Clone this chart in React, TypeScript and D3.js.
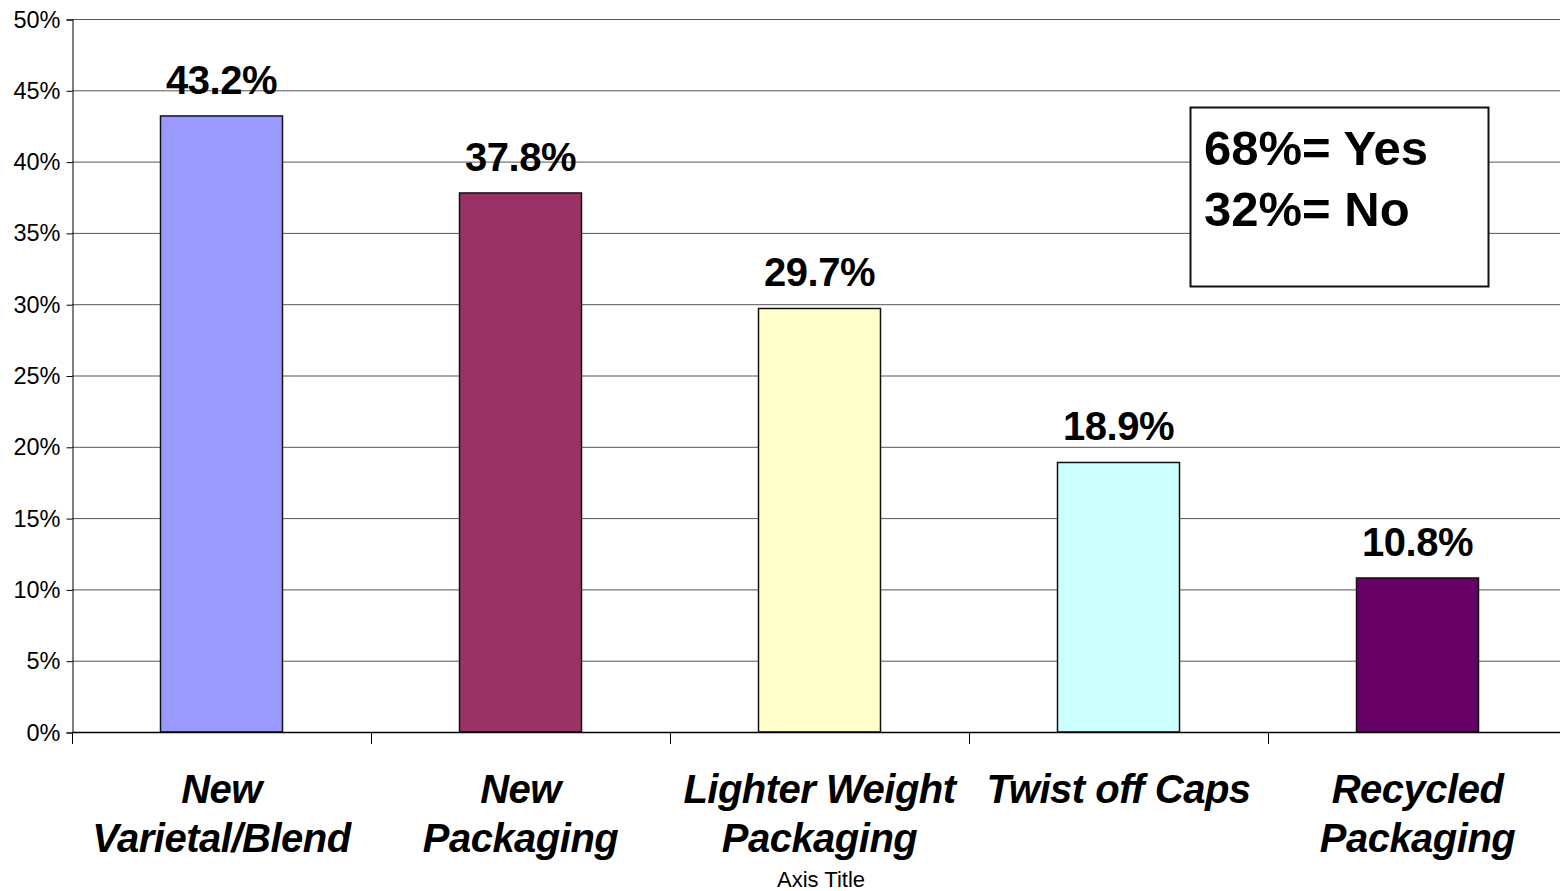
import React, { useEffect, useRef } from 'react';
import * as d3 from 'd3';

const categories = [
  ['New', 'Varietal/Blend'],
  ['New', 'Packaging'],
  ['Lighter Weight', 'Packaging'],
  ['Twist off Caps'],
  ['Recycled', 'Packaging'],
];
const values = [43.2, 37.8, 29.7, 18.9, 10.8];
const barColors = ['#9999FF', '#993366', '#FFFFCC', '#CCFFFF', '#660066'];
const yTicks = [0, 5, 10, 15, 20, 25, 30, 35, 40, 45, 50];
const noteLines = ['68%= Yes', '32%= No'];
const xAxisTitle = 'Axis Title';

const W = 1560;
const H = 891;

const App: React.FC = () => {
  const svgRef = useRef<SVGSVGElement>(null);

  useEffect(() => {
    if (!svgRef.current) return;
    const svg = d3.select(svgRef.current);
    svg.selectAll('*').remove();

    const margin = { left: 72, top: 19, bottom: 732, right: 1567 };
    const font = '"Liberation Sans", Arial, sans-serif';

    const x = d3.scaleBand<number>()
      .domain(values.map((_, i) => i))
      .range([margin.left, margin.right])
      .padding(0);

    const y = d3.scaleLinear().domain([0, 50]).range([margin.bottom, margin.top]);

    // Gridlines
    svg.append('g')
      .selectAll('line')
      .data(yTicks.filter(t => t > 0))
      .enter()
      .append('line')
      .attr('x1', margin.left)
      .attr('x2', W)
      .attr('y1', d => y(d) + 0.5)
      .attr('y2', d => y(d) + 0.5)
      .attr('stroke', '#555')
      .attr('stroke-width', 1);

    // Bars
    const bw = x.bandwidth() * 0.408;
    svg.append('g')
      .selectAll('rect')
      .data(values)
      .enter()
      .append('rect')
      .attr('x', (_, i) => (x(i) as number) + (x.bandwidth() - bw) / 2)
      .attr('y', d => y(d))
      .attr('width', bw)
      .attr('height', d => y(0) - y(d))
      .attr('fill', (_, i) => barColors[i])
      .attr('stroke', '#111')
      .attr('stroke-width', 1.5);

    // Value labels
    svg.append('g')
      .selectAll('text')
      .data(values)
      .enter()
      .append('text')
      .attr('x', (_, i) => (x(i) as number) + x.bandwidth() / 2)
      .attr('y', d => y(d) - 22)
      .attr('text-anchor', 'middle')
      .attr('font-family', font)
      .attr('font-weight', 'bold')
      .attr('font-size', 40)
      .attr('letter-spacing', -0.5)
      .attr('fill', '#000')
      .text(d => `${d.toFixed(1)}%`);

    // Y axis
    const yAxis = d3.axisLeft(y)
      .tickValues(yTicks)
      .tickSize(6)
      .tickPadding(6)
      .tickFormat(d => `${d}%`);
    const yg = svg.append('g')
      .attr('transform', `translate(${margin.left + 0.5},0.5)`)
      .call(yAxis);
    yg.select('.domain').attr('stroke', '#000').attr('stroke-width', 1);
    yg.selectAll('.tick line').attr('stroke', '#000');
    yg.selectAll('.tick text')
      .attr('font-family', font)
      .attr('font-size', 23.5)
      .attr('letter-spacing', 0)
      .attr('fill', '#000');

    // X axis line + ticks
    svg.append('line')
      .attr('x1', margin.left)
      .attr('x2', W)
      .attr('y1', y(0) + 0.5)
      .attr('y2', y(0) + 0.5)
      .attr('stroke', '#000')
      .attr('stroke-width', 1.5);
    svg.append('g')
      .selectAll('line')
      .data(values.map((_, i) => i))
      .enter()
      .append('line')
      .attr('x1', i => (x(i) as number) + 0.5)
      .attr('x2', i => (x(i) as number) + 0.5)
      .attr('y1', y(0))
      .attr('y2', y(0) + 12)
      .attr('stroke', '#000')
      .attr('stroke-width', 1);

    // Category labels
    const catG = svg.append('g');
    categories.forEach((lines, i) => {
      const t = catG.append('text')
        .attr('x', (x(i) as number) + x.bandwidth() / 2)
        .attr('y', 803)
        .attr('text-anchor', 'middle')
        .attr('font-family', font)
        .attr('font-weight', 'bold')
        .attr('font-style', 'italic')
        .attr('font-size', 40)
        .attr('letter-spacing', -0.5)
        .attr('fill', '#000');
      lines.forEach((ln, j) => {
        t.append('tspan')
          .attr('x', (x(i) as number) + x.bandwidth() / 2)
          .attr('dy', j === 0 ? 0 : 49)
          .text(ln);
      });
    });

    // Axis title
    svg.append('text')
      .attr('x', 821)
      .attr('y', 887)
      .attr('text-anchor', 'middle')
      .attr('font-family', font)
      .attr('font-size', 22)
      .attr('fill', '#000')
      .text(xAxisTitle);

    // Note box
    const box = svg.append('g');
    box.append('rect')
      .attr('x', 1190.5)
      .attr('y', 107.5)
      .attr('width', 298)
      .attr('height', 179)
      .attr('fill', '#fff')
      .attr('stroke', '#111')
      .attr('stroke-width', 2);
    noteLines.forEach((ln, j) => {
      box.append('text')
        .attr('x', 1204)
        .attr('y', 165 + j * 61)
        .attr('font-family', font)
        .attr('font-weight', 'bold')
        .attr('font-size', 49)
        .attr('letter-spacing', 0)
        .attr('fill', '#000')
        .text(ln);
    });
  }, []);

  return (
    <svg
      ref={svgRef}
      width={W}
      height={H}
      style={{ position: 'absolute', left: 0, top: 0, background: '#fff' }}
    />
  );
};

export default App;
